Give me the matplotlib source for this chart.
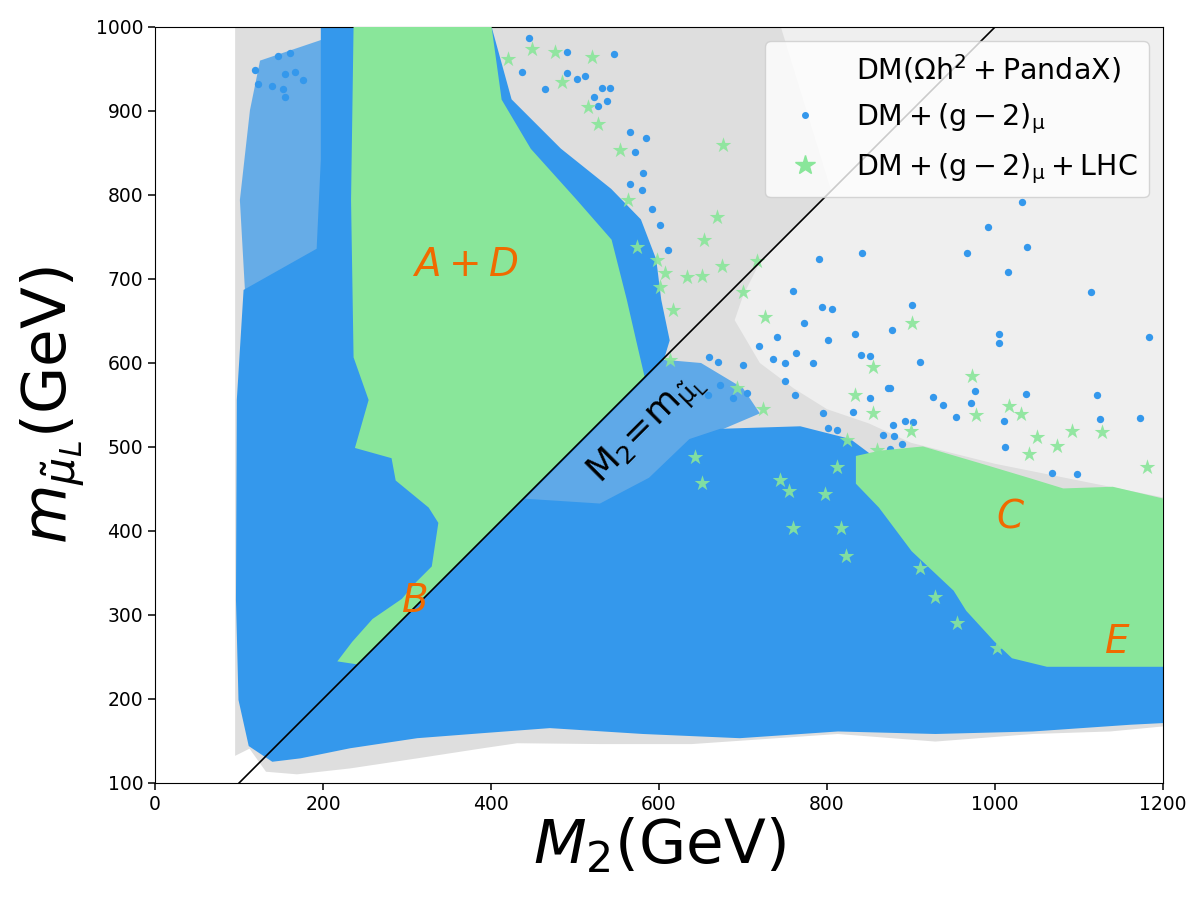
import numpy as np
import matplotlib
matplotlib.use('Agg')
import matplotlib.pyplot as plt
from matplotlib.lines import Line2D

# region outlines (M2, m_smuL) in GeV
gray_dense = [(97, 135), (97, 1000), (745, 1000), (805, 805), (720, 720), (700, 680),
              (690, 651), (720, 600), (760, 570), (800, 545), (850, 528), (900, 505),
              (1000, 480), (1200, 440), (1200, 169), (1137, 163), (1045, 160), (929, 151),
              (813, 160), (639, 148), (530, 148), (431, 149), (390, 143), (312, 131),
              (232, 119), (169, 112), (133, 115), (113, 143)]
gray_sparse = [(745, 1000), (1200, 1000), (1200, 440), (1000, 480), (900, 505), (850, 528),
               (800, 545), (760, 570), (720, 600), (690, 651), (700, 680), (720, 720),
               (805, 805)]
blue_solid = [(199, 1000), (399, 1000), (423, 913), (482, 854), (542, 806), (577, 770),
              (595, 723), (601, 675), (611, 627), (604, 604), (437, 437), (530, 431),
              (589, 462), (637, 508), (673, 520), (768, 523), (827, 508), (851, 490),
              (900, 470), (1000, 440), (1200, 400), (1200, 173), (1161, 171), (1045, 163),
              (929, 160), (813, 163), (696, 155), (581, 160), (470, 167), (390, 161),
              (312, 155), (232, 143), (173, 131), (140, 127), (113, 145), (101, 199),
              (98, 318), (99, 556), (107, 686), (194, 735), (199, 842)]
blue_left_sparse = [(113, 901), (125, 960), (199, 985), (199, 723), (107, 687), (101, 794)]
blue_mid_sparse = [(604, 604), (437, 437), (530, 431), (589, 462), (637, 508), (673, 520),
                   (720, 540), (700, 570), (650, 600)]
green_ad = [(238, 1000), (399, 1000), (411, 913), (446, 854), (500, 794), (542, 746),
            (560, 675), (571, 627), (581, 584), (240, 243), (220, 246), (236, 267),
            (260, 294), (295, 318), (312, 338), (331, 357), (339, 410), (327, 429),
            (288, 461), (283, 488), (240, 500), (256, 556), (238, 607), (235, 794)]
green_ce = [(836, 488), (863, 494), (914, 499), (982, 479), (1042, 461), (1081, 449),
            (1140, 451), (1200, 437), (1200, 240), (1062, 240), (1021, 250), (1000, 270),
            (967, 306), (952, 330), (902, 377), (863, 429), (836, 457)]

# isolated points outside the dense clouds
blue_m2 = [1032, 992, 967, 1038, 1015, 842, 1114, 901, 877, 833, 1005, 1005, 1183, 911, 840,
           851, 875, 926, 976, 938, 971, 1037, 1121, 1125, 1173, 954, 1011, 1012, 893, 902,
           867, 880, 889, 875, 1068, 1098, 790, 760, 794, 806, 740, 773, 801, 719, 763, 783,
           736, 750, 700, 660, 670, 705, 750, 762, 673, 688, 658, 831, 795, 873, 851, 812,
           801, 879, 445, 490, 546, 437, 464, 490, 502, 512, 532, 542, 523, 527, 538, 565,
           585, 571, 581, 565, 580, 592, 601, 611, 119, 123, 139, 146, 161, 155, 167, 176,
           152, 155]
blue_msmu = [792, 762, 731, 738, 708, 731, 684, 669, 639, 635, 635, 624, 631, 601, 610,
             608, 570, 560, 567, 550, 552, 563, 562, 533, 535, 536, 531, 500, 531, 530,
             514, 513, 504, 498, 469, 468, 724, 686, 667, 664, 631, 648, 627, 620, 612, 600,
             605, 600, 598, 607, 601, 564, 579, 562, 574, 558, 562, 542, 540, 570, 558, 520,
             523, 526, 987, 970, 968, 946, 926, 945, 938, 942, 927, 927, 917, 906, 912, 875,
             868, 851, 826, 813, 806, 783, 764, 735, 949, 932, 930, 965, 969, 944, 946, 937,
             926, 917]
green_m2 = [449, 476, 520, 420, 485, 515, 527, 554, 563, 574, 598, 607, 601, 617, 613, 669,
            654, 675, 651, 633, 717, 700, 726, 693, 724, 855, 833, 855, 901, 900, 973, 977,
            1017, 1031, 1050, 1074, 1040, 1092, 1127, 1181, 676, 643, 651, 744, 755, 798,
            812, 824, 860, 760, 817, 823, 911, 929, 955, 1002]
green_msmu = [974, 970, 964, 962, 935, 905, 885, 854, 794, 738, 723, 707, 690, 663, 604,
              774, 746, 715, 704, 702, 721, 685, 655, 570, 545, 595, 562, 540, 648, 519,
              585, 538, 549, 539, 512, 501, 492, 519, 518, 476, 860, 488, 457, 461, 448,
              444, 476, 508, 496, 404, 404, 370, 356, 321, 290, 261]

region_labels = ['$A+D$', '$B$', '$C$', '$E$']
label_m2 = [369, 308, 1019, 1145]
label_msmu = [717, 317, 417, 268]

gray = '#dedede'
blue = '#3498ec'
green = '#89e69a'
orange = '#f06a00'

fig = plt.figure(figsize=(12, 9), dpi=100)
ax = fig.add_axes([0.1292, 0.13, 0.84, 0.84])


def region(pts, **kw):
    p = np.array(pts)
    ax.fill(p[:, 0], p[:, 1], **kw)


region(gray_dense, color=gray, lw=2, zorder=1)
region(gray_sparse, color='#efefef', lw=0, zorder=1)
region(blue_left_sparse, color=blue, alpha=0.7, lw=0, zorder=2)
region(blue_mid_sparse, color=blue, alpha=0.75, lw=0, zorder=2)
region(blue_solid, color=blue, lw=2, zorder=2)
ax.scatter(blue_m2, blue_msmu, s=28, color=blue, lw=0, zorder=3)
region(green_ad, color=green, lw=2, zorder=4)
region(green_ce, color=green, lw=2, zorder=4)
ax.scatter(green_m2, green_msmu, s=140, marker='*', color=green, alpha=0.9, lw=0, zorder=5)

ax.plot([0, 1200], [0, 1200], color='k', lw=1.2, zorder=6)
ax.text(585, 522, r'$\rm M_2\!=\!m_{\tilde{\mu}_L}$', rotation=45, fontsize=26,
        ha='center', va='center', zorder=7)
for lab, xx, yy in zip(region_labels, label_m2, label_msmu):
    ax.text(xx, yy, lab, color=orange, fontsize=28, ha='center', va='center', zorder=7)

ax.set_xlim(0, 1200)
ax.set_ylim(100, 1000)
ax.set_xticks(np.arange(0, 1201, 200))
ax.set_yticks(np.arange(100, 1001, 100))
ax.tick_params(labelsize=13.5, length=5, width=1.1)
ax.set_xlabel(r'$M_2$(GeV)', fontsize=44, labelpad=2)
ax.set_ylabel(r'$m_{\tilde{\mu}_L}$(GeV)', fontsize=44, labelpad=6)

handles = [Line2D([], [], marker='^', ls='', color=gray, alpha=0.0, markersize=8),
           Line2D([], [], marker='o', ls='', color=blue, markersize=4),
           Line2D([], [], marker='*', ls='', color=green, markersize=15)]
labels = [r'$\rm DM(\Omega h^2+PandaX)$', r'$\rm DM+(g-2)_\mu$',
          r'$\rm DM+(g-2)_\mu+LHC$']
leg = ax.legend(handles, labels, loc='upper right', fontsize=20.5, borderaxespad=0.5,
                labelspacing=0.55)
leg.set_zorder(10)

fig.savefig('out.png')
